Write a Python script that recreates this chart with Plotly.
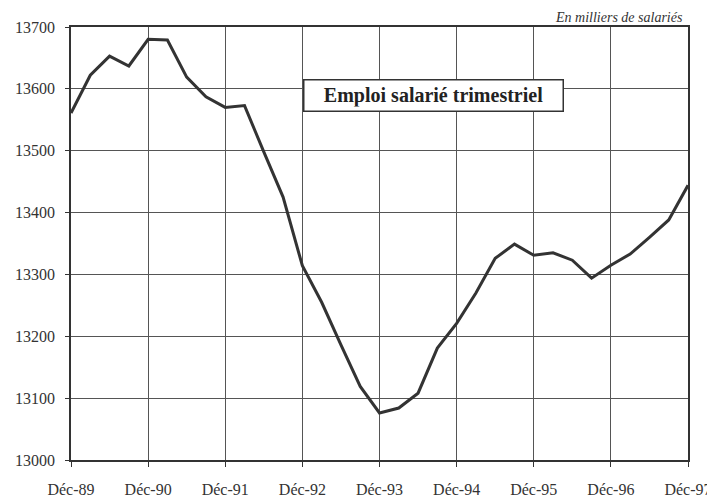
import plotly.graph_objects as go

quarters = list(range(33))
emploi = [13561, 13622, 13653, 13637, 13680, 13679, 13619, 13587, 13570, 13573,
          13498, 13425, 13314, 13255, 13186, 13119, 13076, 13084, 13108, 13181,
          13221, 13270, 13326, 13349, 13331, 13335, 13323, 13294, 13315, 13333,
          13360, 13388, 13444]
year_pos = [0, 4, 8, 12, 16, 20, 24, 28, 32]
year_labels = ["Déc-89", "Déc-90", "Déc-91", "Déc-92", "Déc-93", "Déc-94",
               "Déc-95", "Déc-96", "Déc-97"]
y_ticks = [13000, 13100, 13200, 13300, 13400, 13500, 13600, 13700]
y_labels = [str(v) for v in y_ticks]

serif = "Liberation Serif, Times New Roman, serif"

fig = go.Figure()
fig.add_trace(go.Scatter(x=quarters, y=emploi, mode="lines",
                         line=dict(color="#333333", width=3),
                         showlegend=False, hoverinfo="skip"))

fig.update_layout(
    width=707, height=491,
    margin=dict(l=63, r=27, t=19, b=39, autoexpand=False),
    paper_bgcolor="white", plot_bgcolor="white",
    font=dict(family=serif, color="#333333", size=16),
    xaxis=dict(range=[0, 32], tickmode="array", tickvals=year_pos, ticktext=year_labels,
               showgrid=True, gridcolor="#555555", gridwidth=1,
               showline=True, linecolor="#333333", linewidth=1.5, mirror=True,
               ticks="outside", ticklen=5, tickcolor="#333333",
               ticklabelstandoff=9, zeroline=False, automargin=False,
               tickfont=dict(family=serif, size=16, color="#333333")),
    yaxis=dict(range=[13000, 13700], tickmode="array", tickvals=y_ticks, ticktext=y_labels,
               showgrid=True, gridcolor="#555555", gridwidth=1,
               showline=True, linecolor="#333333", linewidth=1.5, mirror=True,
               ticks="outside", ticklen=4, tickcolor="#333333",
               ticklabelstandoff=7, zeroline=False, automargin=False,
               tickfont=dict(family=serif, size=16, color="#333333")),
    annotations=[
        dict(text="<b>Emploi salarié trimestriel</b>", xref="paper", yref="paper",
             x=(433 - 71) / 617, y=(460 - 96) / 433, xanchor="center", yanchor="middle",
             showarrow=False, font=dict(family=serif, size=20, color="#222222"),
             bgcolor="white", bordercolor="#333333", borderwidth=1.5,
             borderpad=4, width=250, height=22),
        dict(text="<i>En milliers de salariés</i>", xref="paper", yref="paper",
             x=(685 - 71) / 617, y=1, xanchor="right", yanchor="bottom", yshift=0,
             showarrow=False,
             font=dict(family=serif, size=14, color="#333333")),
    ],
)

fig.write_html("out.html")
